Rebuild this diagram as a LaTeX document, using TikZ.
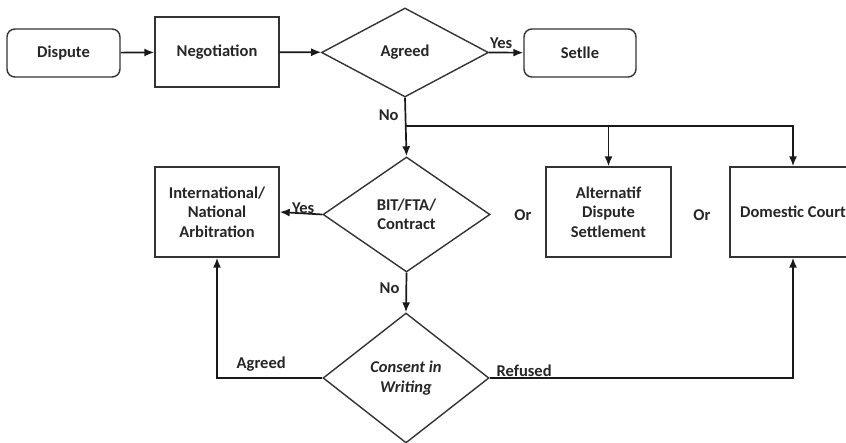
\documentclass[tikz,border=0pt]{standalone}
\usepackage{fontspec}
\setmainfont{Carlito}
\usepackage{tikz}
\usetikzlibrary{positioning}
\usetikzlibrary{shapes,arrows,arrows.meta}

\newcommand{\flowfont}{\fontsize{16.5}{19.5}\selectfont\bfseries}

\tikzset{
  box/.style={rectangle, draw=black!80, line width=1.4pt, align=center, text=black!85, font=\flowfont, inner sep=2pt},
  rbox/.style={box, rounded corners=8pt},
  decision/.style={diamond, draw=black!80, line width=1.4pt, align=center, text=black!85, font=\flowfont, inner sep=0pt, aspect=1},
  lbl/.style={text=black!85, font=\flowfont, inner sep=2pt},
  link/.style={line width=1.7pt, draw=black!90},
}

\begin{document}
\begin{tikzpicture}[x=1pt, y=-1pt, >={Latex[length=10pt,width=8pt]}]
		\useasboundingbox (0,0) rectangle (846,443);
		\clip (0,0) rectangle (846,443);

		% Top row
		\node [rbox, minimum width=113pt, minimum height=48pt] (dispute) at (63.5,53) {Dispute};
		\node [box, minimum width=124pt, minimum height=70pt] (negotiation) at (217,52) {Negotiation};
		\node [decision, minimum width=167pt, minimum height=89pt] (agreed) at (405,52.5) {Agreed};
		\node [rbox, minimum width=112pt, minimum height=48pt] (settle) at (580,53) {Setlle};

		% Middle row
		\node [box, minimum width=124pt, minimum height=90pt] (arbitration) at (217,212) {International/\\National\\Arbitration};
		\node [decision, minimum width=167pt, minimum height=115pt] (treaty) at (406.5,214.5) {BIT/FTA/\\Contract};
		\node [box, minimum width=125pt, minimum height=90pt] (adr) at (608.5,212) {Alternatif\\Dispute\\Settlement};
		\node [box, minimum width=126pt, minimum height=90pt] (court) at (793,212) {Domestic Court};
		\node [lbl] (or1) at (523,215) {Or};
		\node [lbl] (or2) at (702,215) {Or};

		% Bottom row
		\node [decision, minimum width=166pt, minimum height=130pt, font=\flowfont\itshape] (consent) at (406,378) {Consent in\\Writing};

		% Top row links
		\draw [link,->] (dispute) -- (negotiation);
		\draw [link,->] (negotiation) -- (agreed);
		\draw [link,->] (agreed.east) -- node[lbl, pos=0.35, above=1pt] {Yes} (settle);

		% Branch after no agreement
		\coordinate (split) at (agreed.south |- 0,126);
		\draw [link,->] (agreed.south) -- node[lbl, pos=0.3, left=4pt] {No} (treaty.north);
		\draw [link,->] (split) -| (adr.north);
		\draw [link,->] (split) -| (court.north);

		% Treaty decision
		\draw [link,->] (treaty.west) -- node[lbl, pos=0.45, above=-3pt] {Yes} (arbitration.east);
		\draw [link,->] (treaty.south) -- node[lbl, pos=0.4, left=4pt] {No} (consent.north);

		% Consent decision
		\draw [link,->] (consent.west) -| node[lbl, pos=0.29, above=4pt] {Agreed} (arbitration.south);
		\draw [link,->] (consent.east) -| node[lbl, pos=0, above right=-1pt and 4pt] {Refused} (court.south);
	\end{tikzpicture}
\end{document}
